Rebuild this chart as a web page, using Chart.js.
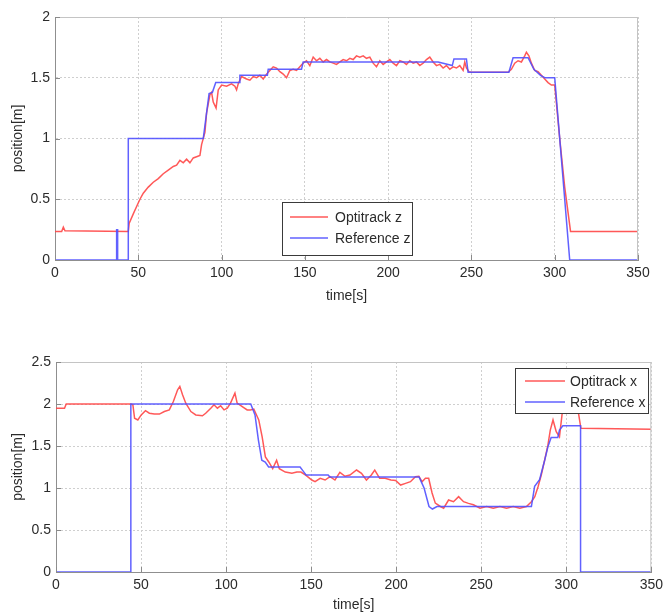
<!DOCTYPE html>
<html><head><meta charset="utf-8">
<script src="https://cdn.jsdelivr.net/npm/chart.js@4"></script>
<style>
html,body{margin:0;padding:0;background:#fff;width:668px;height:615px;overflow:hidden}
#c1{position:absolute;left:0;top:0}
#c2{position:absolute;left:0;top:310px}
</style>
</head><body>
<canvas id="c1" width="668" height="310"></canvas>
<canvas id="c2" width="668" height="305"></canvas>
<script>
// ---------- data ----------
const timeTicks = [0, 50, 100, 150, 200, 250, 300, 350];
const zTicks = [0, 0.5, 1, 1.5, 2];
const xTicks = [0, 0.5, 1, 1.5, 2, 2.5];

const refZTime = [0, 37, 37, 37.6, 37.6, 44, 44, 89, 92.5, 94.5, 96.5, 110.5, 111, 127.5, 128, 148, 149, 230, 238.5, 239.5, 247, 248, 272.5, 275, 284, 287.5, 291.5, 294, 300, 309, 350];
const refZ     = [0, 0, 0.25, 0.25, 0, 0, 1.0, 1.0, 1.37, 1.38, 1.46, 1.46, 1.52, 1.52, 1.57, 1.57, 1.63, 1.63, 1.60, 1.655, 1.655, 1.545, 1.545, 1.665, 1.665, 1.57, 1.52, 1.50, 1.50, 0, 0];

const optZTime = [0, 4, 5, 6, 44, 44.5, 47, 49, 51, 53, 56, 59, 62, 65, 68, 71, 73, 75, 77, 79, 81, 83, 85, 87, 88, 90, 91, 93, 94, 95, 96.7, 98, 100, 103, 106, 108, 109, 110, 112, 115, 117, 119, 121, 123, 125, 127, 129, 131, 133, 135, 137, 139, 141, 143, 145, 147, 149, 151, 153, 155, 157, 159, 161, 163, 165, 167, 169, 171, 173, 175, 177, 179, 181, 183, 185, 187, 189, 191, 193, 195, 197, 199, 201, 203, 205, 207, 209, 211, 213, 215, 217, 219, 221, 223, 225, 227, 229, 231, 233, 235, 237, 239, 241, 243, 245, 246, 247, 248.5, 250, 272, 274, 276, 278, 280, 282, 283, 284.5, 286, 288, 290, 292, 294, 296, 298, 300, 303, 306, 309.5, 350];
const optZ     = [0.235, 0.235, 0.27, 0.24, 0.235, 0.30, 0.38, 0.44, 0.50, 0.55, 0.60, 0.64, 0.67, 0.71, 0.74, 0.77, 0.78, 0.82, 0.80, 0.83, 0.80, 0.84, 0.85, 0.86, 0.95, 1.05, 1.21, 1.36, 1.38, 1.30, 1.25, 1.40, 1.44, 1.43, 1.45, 1.43, 1.40, 1.45, 1.51, 1.49, 1.48, 1.51, 1.50, 1.52, 1.49, 1.53, 1.56, 1.59, 1.58, 1.55, 1.53, 1.50, 1.56, 1.57, 1.56, 1.59, 1.62, 1.64, 1.60, 1.67, 1.64, 1.66, 1.63, 1.65, 1.63, 1.62, 1.61, 1.63, 1.65, 1.64, 1.66, 1.65, 1.68, 1.67, 1.68, 1.66, 1.67, 1.62, 1.59, 1.64, 1.61, 1.63, 1.65, 1.62, 1.60, 1.64, 1.63, 1.61, 1.64, 1.62, 1.63, 1.60, 1.62, 1.65, 1.67, 1.63, 1.60, 1.61, 1.58, 1.60, 1.57, 1.59, 1.58, 1.60, 1.56, 1.63, 1.58, 1.55, 1.545, 1.545, 1.57, 1.62, 1.64, 1.63, 1.68, 1.71, 1.68, 1.62, 1.56, 1.55, 1.52, 1.49, 1.46, 1.44, 1.44, 1.0, 0.6, 0.235, 0.235];

const refXTime = [0, 44, 44, 114.5, 117, 119, 121, 123, 125, 143.5, 145, 147, 160, 161, 213.5, 216.4, 219.3, 221.3, 224, 279.5, 281.4, 284.3, 287.3, 289.2, 291.1, 295, 296, 298, 308.4, 308.4, 350];
const refX     = [0, 0, 2.0, 2.0, 1.87, 1.57, 1.33, 1.31, 1.25, 1.25, 1.21, 1.155, 1.155, 1.13, 1.13, 1.0, 0.78, 0.75, 0.78, 0.78, 1.02, 1.10, 1.33, 1.49, 1.60, 1.60, 1.69, 1.74, 1.74, 0, 0];

const optXTime = [0, 5, 6, 44, 45.2, 46.2, 48.1, 50.1, 52.6, 54.9, 57.8, 60.8, 63.7, 66.6, 69, 71.5, 72.8, 74.4, 76.3, 79.3, 82.2, 86.1, 88, 91, 92.9, 94.9, 96.8, 98.8, 100.7, 102.6, 105.2, 106.5, 109.5, 112.4, 114.3, 116.3, 119.2, 121.2, 123.1, 125.1, 127.4, 129.7, 131.3, 134.8, 138.7, 141.6, 144, 147, 150.4, 152.3, 155.3, 158.2, 161.1, 164, 166.9, 169.9, 172.8, 176.7, 179.6, 182.5, 185.4, 187.4, 190.3, 193.5, 196.9, 199.7, 202.6, 205.5, 208.4, 211.3, 213.3, 215.2, 217.2, 219.1, 221.1, 223, 226, 227.9, 230.8, 233.7, 236.7, 239.6, 242.5, 245.4, 249.3, 253.2, 257.1, 261, 264.9, 268.8, 272.7, 276.6, 279.5, 281.5, 283.4, 285.3, 287.3, 289.2, 290.6, 292.2, 294.1, 296, 297.6, 299, 301, 304, 306.7, 308.6, 350];
const optX     = [1.95, 1.95, 2.0, 2.0, 1.99, 1.83, 1.81, 1.87, 1.92, 1.89, 1.88, 1.88, 1.91, 1.93, 2.03, 2.17, 2.21, 2.11, 2.01, 1.91, 1.87, 1.86, 1.89, 1.95, 1.99, 1.95, 1.98, 1.93, 1.95, 2.01, 2.13, 2.01, 1.97, 1.93, 1.93, 1.94, 1.81, 1.61, 1.37, 1.31, 1.23, 1.33, 1.23, 1.19, 1.175, 1.19, 1.19, 1.15, 1.095, 1.075, 1.115, 1.095, 1.135, 1.095, 1.187, 1.14, 1.155, 1.214, 1.175, 1.095, 1.155, 1.214, 1.115, 1.115, 1.095, 1.09, 1.035, 1.055, 1.075, 1.135, 1.14, 1.075, 1.115, 1.115, 0.94, 0.82, 0.78, 0.76, 0.857, 0.837, 0.897, 0.837, 0.817, 0.80, 0.76, 0.78, 0.76, 0.78, 0.76, 0.78, 0.76, 0.78, 0.837, 0.897, 1.015, 1.155, 1.333, 1.51, 1.69, 1.81, 1.67, 1.61, 1.89, 2.13, 2.25, 2.25, 1.95, 1.71, 1.70];

// ---------- styling ----------
function hasFont(name) {
  const c = document.createElement('canvas').getContext('2d');
  c.font = '40px monospace';
  const a = c.measureText('350 Optitrack').width;
  c.font = '40px "' + name + '", monospace';
  const b = c.measureText('350 Optitrack').width;
  return Math.abs(a - b) > 0.5;
}
const NARROW = hasFont('Liberation Sans Narrow');
const FAMILY = NARROW ? '"Liberation Sans Narrow", "Liberation Sans", Arial, sans-serif' : '"Liberation Sans", Arial, sans-serif';
const FSIZE = NARROW ? 16 : 14;
const TXT = '#2b2b2b';
const RED = 'rgba(255,70,70,0.9)';
const BLUE = 'rgba(80,80,255,0.9)';

function pts(t, v) { return t.map((tt, i) => ({x: tt, y: v[i]})); }

const framePlugin = {
  id: 'frame',
  afterDatasetsDraw(chart, args, opts) {
    const {ctx, chartArea: a, scales: {x, y}} = chart;
    ctx.save();
    ctx.lineWidth = 1;
    ctx.strokeStyle = '#c4c4c4';
    ctx.beginPath();
    ctx.moveTo(a.left, a.top + 0.5); ctx.lineTo(a.right, a.top + 0.5);
    ctx.moveTo(a.right - 0.5, a.top); ctx.lineTo(a.right - 0.5, a.bottom);
    ctx.stroke();
    ctx.strokeStyle = '#8a8a8a';
    ctx.beginPath();
    x.ticks.forEach(t => { const p = Math.round(x.getPixelForValue(t.value)) + 0.5; ctx.moveTo(p, a.bottom); ctx.lineTo(p, a.bottom - 5); });
    y.ticks.forEach(t => { const p = Math.round(y.getPixelForValue(t.value)) + 0.5; ctx.moveTo(a.left, p); ctx.lineTo(a.left + 5, p); });
    ctx.stroke();
    // legend box
    const L = opts.box;
    const bx = a.left + L.dx, by = a.top + L.dy;
    ctx.fillStyle = '#fff';
    ctx.fillRect(bx, by, L.w, L.h);
    ctx.strokeStyle = '#3a3a3a';
    ctx.strokeRect(bx + 0.5, by + 0.5, L.w, L.h);
    ctx.font = FSIZE + 'px ' + FAMILY;
    ctx.textBaseline = 'middle';
    ctx.textAlign = 'left';
    chart.data.datasets.slice().reverse().forEach((ds, i) => {
      const ry = by + L.rows[i];
      ctx.strokeStyle = ds.borderColor;
      ctx.lineWidth = 1.5;
      ctx.beginPath(); ctx.moveTo(bx + L.lx0, ry); ctx.lineTo(bx + L.lx1, ry); ctx.stroke();
      ctx.fillStyle = TXT;
      ctx.fillText(ds.label, bx + L.tx, ry + 1);
    });
    ctx.restore();
  }
};

function makeChart(id, refT, ref, optT, opt, yTicks, yMax, labels, geom) {
  return new Chart(document.getElementById(id), {
    type: 'line',
    data: {
      datasets: [
        {label: labels[1], data: pts(refT, ref), borderColor: BLUE, borderWidth: 1.5, pointRadius: 0, tension: 0},
        {label: labels[0], data: pts(optT, opt), borderColor: RED, borderWidth: 1.5, pointRadius: 0, tension: 0}
      ]
    },
    options: {
      responsive: false,
      animation: false,
      events: [],
      layout: {padding: {top: geom.top, right: geom.right, left: 0, bottom: 0}},
      plugins: {legend: {display: false}, tooltip: {enabled: false}, frame: {box: geom.legend}},
      scales: {
        x: {
          type: 'linear', min: 0, max: 350,
          afterBuildTicks: s => { s.ticks = timeTicks.map(v => ({value: v})); },
          afterFit: s => { s.height = geom.xh; },
          grid: {color: '#cfcfcf', drawTicks: false},
          border: {display: true, color: '#8f8f8f', width: 1, dash: [2, 2]},
          ticks: {color: TXT, font: {family: FAMILY, size: FSIZE}, padding: geom.xpad, maxRotation: 0, autoSkip: false},
          title: {display: true, text: 'time[s]', color: TXT, font: {family: FAMILY, size: FSIZE}, padding: {top: 0, bottom: geom.xtpad}}
        },
        y: {
          type: 'linear', min: 0, max: yMax,
          afterBuildTicks: s => { s.ticks = yTicks.map(v => ({value: v})); },
          afterFit: s => { s.width = geom.yw; },
          grid: {color: '#cfcfcf', drawTicks: false},
          border: {display: true, color: '#8f8f8f', width: 1, dash: [2, 2]},
          ticks: {color: TXT, font: {family: FAMILY, size: FSIZE}, padding: 5, callback: v => String(v)},
          title: {display: true, text: 'position[m]', color: TXT, font: {family: FAMILY, size: FSIZE}, padding: {top: 10, bottom: 0}}
        }
      }
    },
    plugins: [framePlugin]
  });
}

makeChart('c1', refZTime, refZ, optZTime, optZ, zTicks, 2, ['Optitrack z', 'Reference z'], {
  top: 17, right: 30, yw: 55, xh: 50, xpad: 5, xtpad: 5,
  legend: {dx: 227, dy: 185, w: 130, h: 53, rows: [15, 36], lx0: 8, lx1: 46, tx: 53}
});
makeChart('c2', refXTime, refX, optXTime, optX, xTicks, 2.5, ['Optitrack x', 'Reference x'], {
  top: 52, right: 13, yw: 56, xh: 43, xpad: 5, xtpad: 1,
  legend: {dx: 459, dy: 6, w: 133, h: 45, rows: [13, 34], lx0: 10, lx1: 50, tx: 55}
});
</script>
</body></html>
